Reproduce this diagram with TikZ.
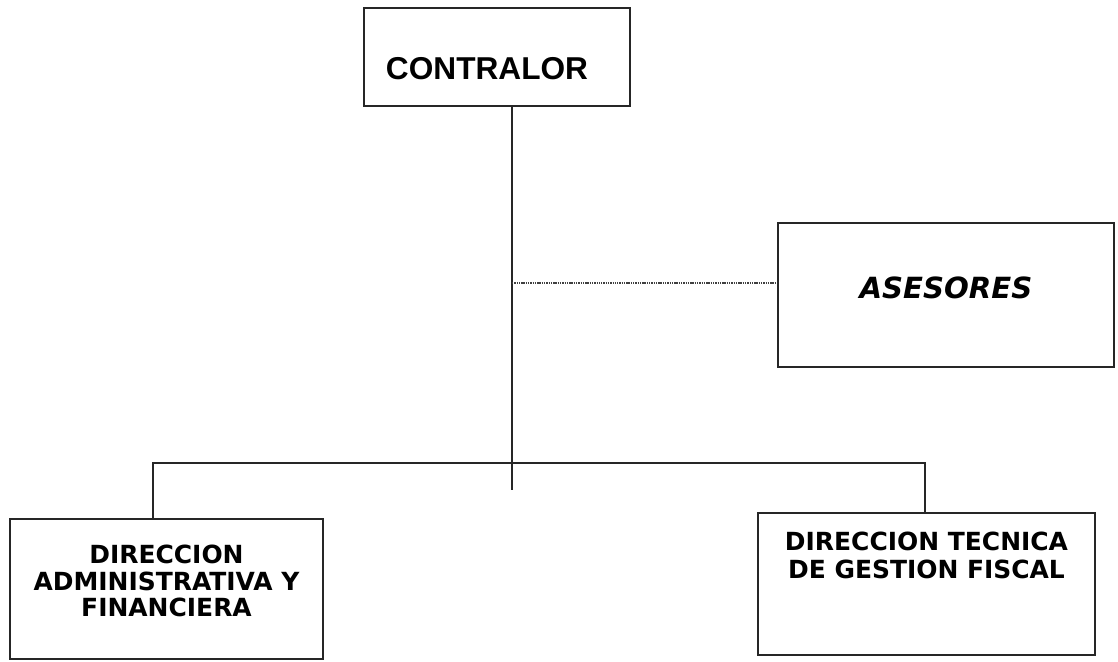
\documentclass[tikz,border=0pt]{standalone}
\usepackage{fontspec}
\setmainfont{DejaVu Sans}
\newfontfamily\arialfont{Liberation Sans}
\usepackage{tikz}
\usetikzlibrary{positioning,calc}

\tikzset{
  orgbox/.style={draw=black!85,line width=1.3pt,inner sep=0pt},
  orgline/.style={draw=black!85,line width=1.2pt},
  advline/.style={draw=black!75,line width=0.8pt,dash pattern=on 0.8pt off 0.5pt},
}
% width, height, gap above text, text
\newcommand{\boxtext}[4]{\parbox[c][#2][t]{#1}{\vspace*{#3}\centering #4}}

\begin{document}
\begin{tikzpicture}[x=0.02cm,y=-0.02cm]
  \useasboundingbox[fill=white] (0,0) rectangle (1118,662);
  % boxes
  \node[orgbox] (contralor) at (497,57)
    {\boxtext{5.32cm}{1.96cm}{0.98cm}{\hspace*{-0.4cm}\arialfont\bfseries\fontsize{18}{20}\selectfont CONTRALOR}};
  \node[orgbox] (asesores) at (946,295)
    {\boxtext{6.72cm}{2.88cm}{1.08cm}{\bfseries\itshape\fontsize{16.6}{18}\selectfont ASESORES}};
  \node[orgbox] (admin) at (166.5,589)
    {\boxtext{6.26cm}{2.8cm}{0.52cm}{\bfseries\fontsize{14.2}{15.2}\selectfont DIRECCION\\ADMINISTRATIVA Y\\FINANCIERA}};
  \node[orgbox] (tecnica) at (926.5,584)
    {\boxtext{6.74cm}{2.84cm}{0.38cm}{\bfseries\fontsize{14.2}{16}\selectfont DIRECCION TECNICA\\DE GESTION FISCAL}};
  % connectors
  \coordinate (trunk) at (512,490);
  \coordinate (barL) at (153,463);
  \coordinate (barR) at (925,463);
  \coordinate (adv) at (512,283);
  \draw[orgline] (contralor.south -| trunk) -- (trunk);
  \draw[orgline] (admin.north -| barL) -- (barL) -- (barR) -- (tecnica.north -| barR);
  \draw[advline] (adv) -- (adv -| asesores.west);
\end{tikzpicture}
\end{document}
